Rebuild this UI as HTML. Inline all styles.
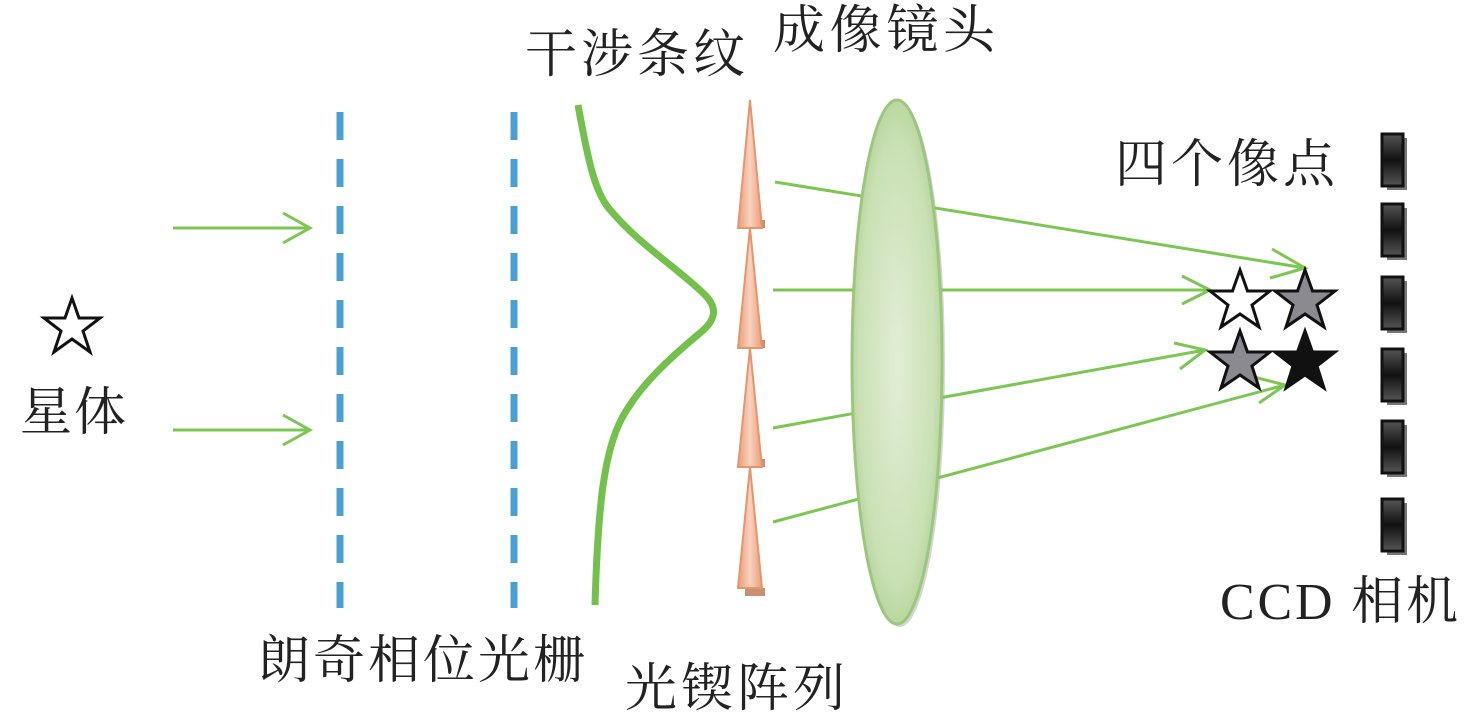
<!DOCTYPE html>
<html><head><meta charset="utf-8"><style>
html,body{margin:0;padding:0;background:#fff;}
svg{display:block;}
text{font-family:"Liberation Serif","Noto Serif CJK SC",serif;font-size:52px;fill:#222;}
</style></head><body>
<svg width="1476" height="723" viewBox="0 0 1476 723" xmlns="http://www.w3.org/2000/svg">
<defs>
<radialGradient id="lens" cx="0.5" cy="0.5" r="0.6">
<stop offset="0" stop-color="#e2eed6"/><stop offset="0.7" stop-color="#c9e0b4"/><stop offset="1" stop-color="#a6cc86"/>
</radialGradient>
<linearGradient id="wedge" x1="0" x2="1">
<stop offset="0" stop-color="#eb9c78"/><stop offset="0.5" stop-color="#f7d2bf"/><stop offset="1" stop-color="#eb9c78"/>
</linearGradient>
<linearGradient id="pix" x1="0" y1="0" x2="0" y2="1">
<stop offset="0" stop-color="#555"/><stop offset="0.5" stop-color="#111"/><stop offset="1" stop-color="#555"/>
</linearGradient>
</defs>

<text x="525" y="72" textLength="220">干涉条纹</text>
<text x="773" y="48" textLength="222">成像镜头</text>
<text x="1115" y="182" textLength="220">四个像点</text>
<text x="20" y="430" textLength="106">星体</text>
<text x="258" y="678" textLength="327">朗奇相位光栅</text>
<text x="625" y="706" textLength="220">光锲阵列</text>
<text x="1220" y="619" textLength="238">CCD 相机</text>

<polygon points="72,298 79,318 100,318 83,331 90,352 72,339 54,352 61,331 44,318 65,318" fill="#fff" stroke="#111" stroke-width="3"/>

<g stroke="#7cc652" stroke-width="3" fill="none">
<line x1="173" y1="228" x2="310" y2="228"/><polyline points="283,213 310,228 283,243"/>
<line x1="173" y1="430" x2="310" y2="430"/><polyline points="283,415 310,430 283,445"/>
</g>

<g stroke="#4aa0d2" stroke-width="7" stroke-dasharray="28 19">
<line x1="340" y1="112" x2="340" y2="608"/>
<line x1="514" y1="112" x2="514" y2="608"/>
</g>

<path d="M578,105 C588,160 595,195 612,212 C640,245 680,270 705,295 C718,308 716,320 700,333 C670,358 640,385 622,418 C605,450 598,500 595,605" fill="none" stroke="#74c04c" stroke-width="7"/>

<g stroke="#e8946c" stroke-width="2">
<rect x="745" y="220" width="20" height="8" fill="#c98f72" stroke="none"/>
<polygon points="750,100 738,228 762,228" fill="url(#wedge)"/>
<rect x="745" y="340" width="20" height="8" fill="#c98f72" stroke="none"/>
<polygon points="750,228 738,348 762,348" fill="url(#wedge)"/>
<rect x="745" y="459" width="20" height="8" fill="#c98f72" stroke="none"/>
<polygon points="750,348 738,467 762,467" fill="url(#wedge)"/>
<rect x="745" y="588" width="20" height="8" fill="#c98f72" stroke="none"/>
<polygon points="750,467 738,588 762,588" fill="url(#wedge)"/>
</g>

<g stroke="#7cc652" stroke-width="3" fill="none">
<line x1="775" y1="182" x2="1305" y2="268"/><polyline points="1272,249 1305,268 1270,278"/>
<line x1="773" y1="290" x2="1210" y2="290"/><polyline points="1182,276 1210,290 1182,304"/>
<line x1="773" y1="428" x2="1205" y2="350"/><polyline points="1174,343 1205,350 1180,369"/>
<line x1="773" y1="522" x2="1285" y2="385"/><polyline points="1254,377 1285,385 1259,403"/>
</g>

<ellipse cx="900" cy="365" rx="45" ry="262" fill="#9aa89a" opacity="0.45"/>
<ellipse cx="897" cy="362" rx="45" ry="262" fill="url(#lens)" stroke="#9cc67e" stroke-width="3"/>

<g stroke="#111" stroke-width="3">
<polygon points="1240,270 1247.5,291 1270,291 1252,305 1259,327 1240,314 1221,327 1228,305 1210,291 1232.5,291" fill="#fff"/>
<polygon points="1305,270 1312.5,291 1335,291 1317,305 1324,327 1305,314 1286,327 1293,305 1275,291 1297.5,291" fill="#8a8a90"/>
<polygon points="1240,331 1247.5,352 1270,352 1252,366 1259,388 1240,375 1221,388 1228,366 1210,352 1232.5,352" fill="#8a8a90"/>
<polygon points="1305,331 1312.5,352 1335,352 1317,366 1324,388 1305,375 1286,388 1293,366 1275,352 1297.5,352" fill="#111"/>
</g>

<g>
<rect x="1387" y="138" width="20" height="52" fill="#777"/><rect x="1382" y="134" width="21" height="52" fill="url(#pix)" stroke="#111" stroke-width="3"/>
<rect x="1387" y="208" width="20" height="52" fill="#777"/><rect x="1382" y="204" width="21" height="52" fill="url(#pix)" stroke="#111" stroke-width="3"/>
<rect x="1387" y="281" width="20" height="52" fill="#777"/><rect x="1382" y="277" width="21" height="52" fill="url(#pix)" stroke="#111" stroke-width="3"/>
<rect x="1387" y="353" width="20" height="52" fill="#777"/><rect x="1382" y="349" width="21" height="52" fill="url(#pix)" stroke="#111" stroke-width="3"/>
<rect x="1387" y="425" width="20" height="52" fill="#777"/><rect x="1382" y="421" width="21" height="52" fill="url(#pix)" stroke="#111" stroke-width="3"/>
<rect x="1387" y="503" width="20" height="52" fill="#777"/><rect x="1382" y="499" width="21" height="52" fill="url(#pix)" stroke="#111" stroke-width="3"/>
</g>
</svg>
</body></html>
